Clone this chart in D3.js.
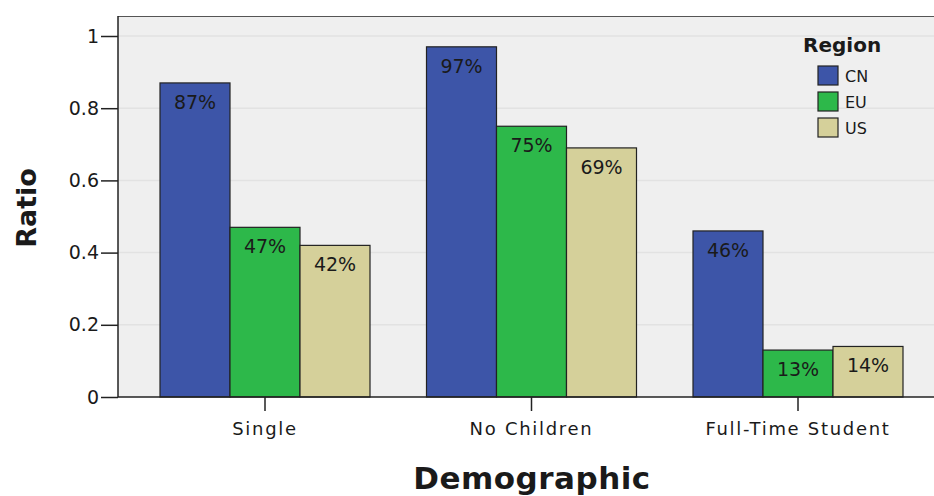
<!DOCTYPE html>
<html>
<head>
<meta charset="utf-8">
<script src="https://cdn.jsdelivr.net/npm/d3@7"></script>
<style>
  body { margin: 0; background: #fff; }
  text { font-family: "DejaVu Sans", sans-serif; fill: #1a1a1a; }
</style>
</head>
<body>
<svg width="934" height="496"></svg>
<script>
var categories = ["Single", "No Children", "Full-Time Student"];
var regions = ["CN", "EU", "US"];
var cnValues = [0.87, 0.97, 0.46];
var euValues = [0.47, 0.75, 0.13];
var usValues = [0.42, 0.69, 0.14];
var yTicks = [0, 0.2, 0.4, 0.6, 0.8, 1];
var colors = ["#3d55a8", "#2db84a", "#d5d09a"];

var series = [cnValues, euValues, usValues];
var rows = [];
categories.forEach(function (c, i) {
  regions.forEach(function (r, j) {
    rows.push({ cat: c, region: r, value: series[j][i] });
  });
});

var svg = d3.select("svg");
var plotLeft = 118, plotTop = 16, plotRight = 934, plotBottom = 397;

var yScale = d3.scaleLinear().domain([0, 1]).range([plotBottom, 36]);
var xScale = d3.scaleBand().domain(categories).range([131.75, 931.25]).paddingInner(0.212).paddingOuter(0.106);
var xSub = d3.scaleBand().domain(regions).range([0, xScale.bandwidth()]);
var color = d3.scaleOrdinal().domain(regions).range(colors);

// plot background
svg.append("rect")
  .attr("x", plotLeft).attr("y", plotTop)
  .attr("width", plotRight - plotLeft).attr("height", plotBottom - plotTop)
  .attr("fill", "#efefef");

// gridlines
svg.append("g")
  .selectAll("line")
  .data(yTicks.slice(1))
  .enter()
  .append("line")
  .attr("x1", plotLeft).attr("x2", plotRight)
  .attr("y1", function (d) { return yScale(d); })
  .attr("y2", function (d) { return yScale(d); })
  .attr("stroke", "#e2e2e2")
  .attr("stroke-width", 1.5);

// top border
svg.append("line")
  .attr("x1", plotLeft).attr("x2", plotRight)
  .attr("y1", plotTop + 0.5).attr("y2", plotTop + 0.5)
  .attr("stroke", "#555").attr("stroke-width", 1);

// bars
svg.append("g")
  .selectAll("rect")
  .data(rows)
  .enter()
  .append("rect")
  .attr("x", function (d) { return xScale(d.cat) + xSub(d.region); })
  .attr("y", function (d) { return yScale(d.value); })
  .attr("width", xSub.bandwidth())
  .attr("height", function (d) { return plotBottom - yScale(d.value); })
  .attr("fill", function (d) { return color(d.region); })
  .attr("stroke", "#222")
  .attr("stroke-width", 1.2);

// bar labels
svg.append("g")
  .selectAll("text")
  .data(rows)
  .enter()
  .append("text")
  .attr("x", function (d) { return xScale(d.cat) + xSub(d.region) + xSub.bandwidth() / 2; })
  .attr("y", function (d) { return yScale(d.value) + 26; })
  .attr("text-anchor", "middle")
  .style("font-size", "19px")
  .text(function (d) { return Math.round(d.value * 100) + "%"; });

// Y axis
var yAxis = svg.append("g")
  .attr("transform", "translate(" + plotLeft + ",0)")
  .call(d3.axisLeft(yScale).tickValues(yTicks).tickSize(17).tickPadding(2)
    .tickFormat(function (d) { return d === 0 || d === 1 ? d3.format("d")(d) : d3.format(".1f")(d); }));
yAxis.select(".domain").attr("stroke", "#222").attr("stroke-width", 1.5).attr("d", "M0," + plotTop + "V" + plotBottom);
yAxis.selectAll(".tick line").attr("stroke", "#222").attr("stroke-width", 1.5);
yAxis.selectAll(".tick text").style("font-size", "19px").style("font-family", "DejaVu Sans").attr("fill", "#1a1a1a");

// X axis
var xAxis = svg.append("g")
  .attr("transform", "translate(0," + plotBottom + ")")
  .call(d3.axisBottom(xScale).tickSize(14).tickPadding(11));
xAxis.select(".domain").attr("stroke", "#222").attr("stroke-width", 1.5).attr("d", "M" + plotLeft + ",0H" + plotRight);
xAxis.selectAll(".tick line").attr("stroke", "#222").attr("stroke-width", 1.5);
xAxis.selectAll(".tick text").style("font-size", "18px").style("font-family", "DejaVu Sans")
  .style("letter-spacing", "1.7px").attr("fill", "#1a1a1a");

// axis titles
svg.append("text")
  .attr("x", 532).attr("y", 489)
  .attr("text-anchor", "middle")
  .style("font-size", "31px").style("font-weight", "bold")
  .style("letter-spacing", "0.5px")
  .text("Demographic");

svg.append("text")
  .attr("text-anchor", "middle")
  .attr("transform", "translate(36,208)rotate(-90)")
  .style("font-size", "27px").style("font-weight", "bold")
  .text("Ratio");

// legend
var legend = svg.append("g").attr("transform", "translate(803,0)");
legend.append("text")
  .attr("x", 0).attr("y", 52)
  .style("font-size", "20px").style("font-weight", "bold")
  .text("Region");
legend.selectAll("rect")
  .data(regions)
  .enter()
  .append("rect")
  .attr("x", 15)
  .attr("y", function (d, i) { return 66 + i * 26; })
  .attr("width", 20).attr("height", 19)
  .attr("fill", function (d) { return color(d); })
  .attr("stroke", "#222").attr("stroke-width", 1.2);
legend.selectAll(".lbl")
  .data(regions)
  .enter()
  .append("text")
  .attr("class", "lbl")
  .attr("x", 42)
  .attr("y", function (d, i) { return 82 + i * 26; })
  .style("font-size", "16px")
  .text(function (d) { return d; });
</script>
</body>
</html>
